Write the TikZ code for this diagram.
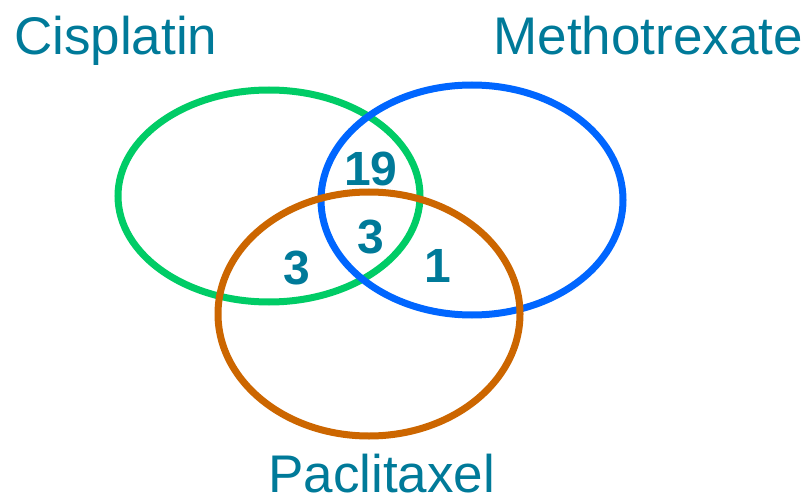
\documentclass[tikz,border=0pt]{standalone}
\usepackage{fontspec}
\setmainfont{Liberation Sans}
\definecolor{vgreen}{HTML}{00CC66}
\definecolor{vblue}{HTML}{0066FF}
\definecolor{vorange}{HTML}{CC6600}
\definecolor{vtext}{HTML}{007A99}
\begin{document}
\begin{tikzpicture}[x=1pt,y=-1pt,
  ring/.style={line width=7pt},
  setlabel/.style={inner sep=0pt,text=vtext,font=\fontsize{53}{53}\selectfont},
  count/.style={inner sep=0pt,text=vtext,font=\bfseries\fontsize{48}{48}\selectfont}]
\useasboundingbox (0,0) rectangle (808,497);
\draw[ring,vgreen] (269,196) ellipse [x radius=151, y radius=106];
\draw[ring,vblue] (472,200) ellipse [x radius=151, y radius=115];
\draw[ring,vorange] (369,314) ellipse [x radius=151, y radius=122];
\node[setlabel,anchor=base west] (cis) at (14,55) {Cisplatin};
\node[setlabel,anchor=base east] (met) at (803,55) {Methotrexate};
\node[setlabel,anchor=base west] (pac) at (268,492) {Paclitaxel};
\node[count] (n19) at (371,169) {19};
\node[count] (n3c) at (371,237) {3};
\node[count] (n3l) at (297,268) {3};
\node[count] (n1) at (438,266) {1};
\end{tikzpicture}
\end{document}
